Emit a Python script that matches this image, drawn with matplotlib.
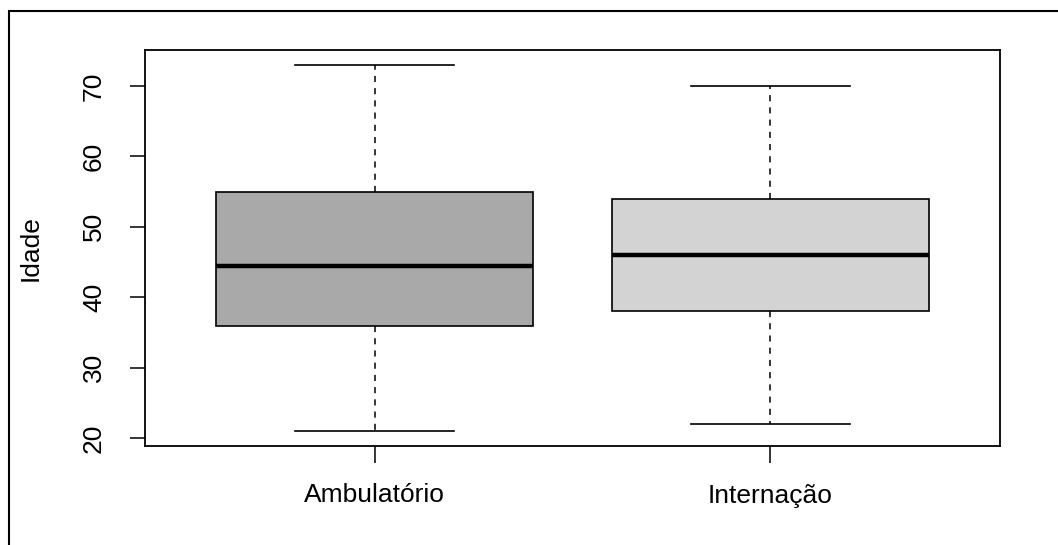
import matplotlib
matplotlib.use("Agg")
import matplotlib.pyplot as plt
from matplotlib.patches import Rectangle

plt.rcParams['font.family'] = ['Liberation Sans', 'DejaVu Sans']

# resumo de idade por tipo de atendimento
grupos = ['Ambulatório', 'Internação']
minimo = [21, 22]
q1 = [36, 38]
mediana = [44.5, 46]
q3 = [55, 54]
maximo = [73, 70]
cores = ['#A9A9A9', '#D3D3D3']

stats = []
for i in range(len(grupos)):
    stats.append({'label': grupos[i], 'whislo': minimo[i], 'q1': q1[i],
                  'med': mediana[i], 'q3': q3[i], 'whishi': maximo[i],
                  'fliers': []})

fig = plt.figure(figsize=(10.58, 5.45), dpi=100)
ax = fig.add_axes([145/1058, 1 - 446/545, 855/1058, 396/545])

pos = [1, 2]
bp = ax.bxp(stats, positions=pos, widths=0.8, patch_artist=True,
            showfliers=False,
            boxprops=dict(edgecolor='black', linewidth=1.2),
            medianprops=dict(color='black', linewidth=3.2, solid_capstyle='butt'),
            whiskerprops=dict(color='black', linewidth=1.1, linestyle=(0, (4, 4))),
            capprops=dict(color='black', linewidth=1.2),
            capwidths=0.4)
for caixa, cor in zip(bp['boxes'], cores):
    caixa.set_facecolor(cor)

# limites no estilo do R: faixa dos dados + 4%
lo, hi = min(minimo), max(maximo)
ax.set_ylim(lo - 0.04 * (hi - lo), hi + 0.04 * (hi - lo))
ax.set_xlim(0.5 - 0.04 * 2, 2.5 + 0.04 * 2)

ax.set_yticks([20, 30, 40, 50, 60, 70])
ax.set_yticklabels(['20', '30', '40', '50', '60', '70'], rotation=90, va='center')
ax.set_xticks(pos)
ax.set_xticklabels(grupos)
ax.tick_params(axis='y', length=11, width=1.1, pad=17, labelsize=19)
ax.tick_params(axis='x', length=12, width=1.1, pad=15, labelsize=19)
ax.set_ylabel('Idade', fontsize=19)
ax.yaxis.set_label_coords((43 - 145) / 855, 0.5)

for s in ax.spines.values():
    s.set_linewidth(1.3)

# moldura externa
fig.patches.append(Rectangle((9/1058, -0.2), 1.2, 1.2 - 11/545, transform=fig.transFigure,
                             fill=False, edgecolor='black', linewidth=1.5))

fig.savefig('out.png', dpi=100)
